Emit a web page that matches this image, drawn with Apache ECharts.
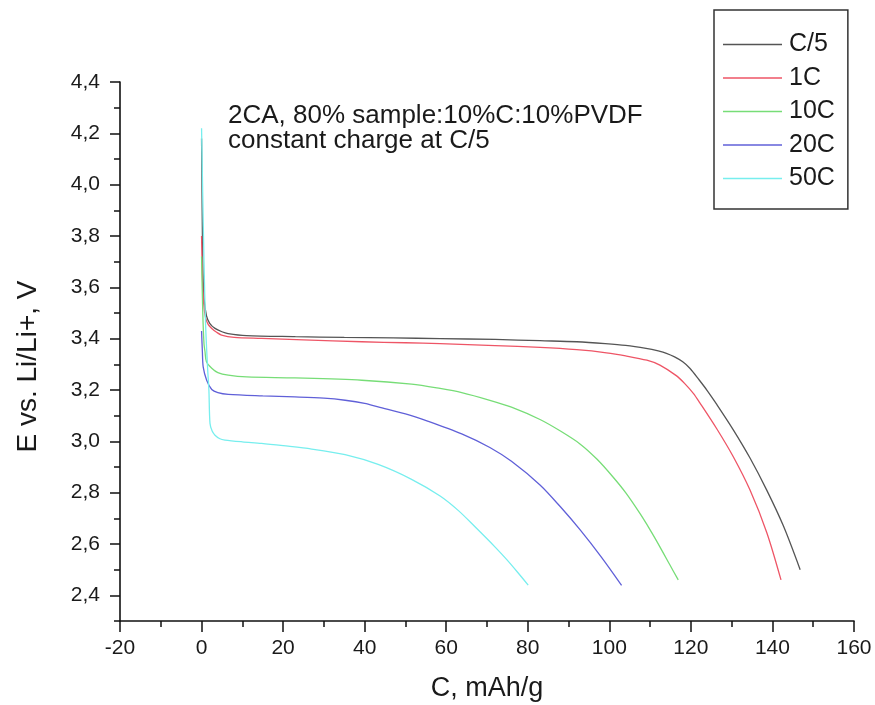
<!DOCTYPE html>
<html>
<head>
<meta charset="utf-8">
<script src="https://cdn.jsdelivr.net/npm/echarts@6/dist/echarts.min.js"></script>
<style>
html,body{margin:0;padding:0;background:#fff;}
#chart{width:875px;height:705px;}
</style>
</head>
<body>
<div id="chart"></div>
<script>
// ---- data (x: C, mAh/g ; y: E vs Li/Li+, V) ----
const seriesNames = ['C/5', '1C', '10C', '20C', '50C'];

const dataC5 = [[0,4.18],[0.15,3.9],[0.3,3.7],[0.6,3.56],[1.2,3.49],[2.0,3.46],[3.3,3.44],[5,3.427],[6.5,3.42],[11,3.412],[23,3.408],[35,3.405],[47,3.403],[58.5,3.4],[72,3.397],[83,3.392],[92,3.388],[99,3.381],[104,3.374],[109,3.362],[112,3.352],[114,3.343],[116,3.329],[118,3.31],[119.8,3.284],[122,3.24],[124,3.198],[126.3,3.145],[130.4,3.045],[134.5,2.935],[138.6,2.81],[142.7,2.67],[146.8,2.5]];

const data1C = [[0,3.8],[0.2,3.65],[0.5,3.54],[1,3.48],[1.65,3.455],[2.5,3.44],[3.7,3.425],[4.9,3.414],[8,3.405],[14.7,3.401],[25,3.395],[39.3,3.388],[50,3.384],[58.5,3.381],[72,3.373],[83,3.366],[92,3.357],[99.3,3.345],[104,3.333],[109.2,3.316],[112.4,3.297],[116.5,3.255],[118.5,3.225],[120.6,3.187],[122.2,3.15],[126.3,3.05],[130.4,2.94],[134.5,2.81],[138.6,2.645],[142.1,2.46]];

const data10C = [[0,3.72],[0.3,3.5],[0.6,3.38],[0.84,3.35],[1.2,3.31],[2.5,3.285],[4,3.268],[6.55,3.258],[11.1,3.251],[22.9,3.247],[39.3,3.238],[51.5,3.223],[58.5,3.206],[63.8,3.19],[70.7,3.16],[76,3.133],[83,3.085],[88,3.04],[92.8,2.99],[97,2.93],[100.9,2.861],[104,2.8],[107.5,2.719],[110,2.655],[112.4,2.589],[114.8,2.52],[116.9,2.46]];

const data20C = [[0,3.43],[0.2,3.35],[0.4,3.29],[1.25,3.238],[2.5,3.202],[4,3.19],[6.55,3.183],[15,3.177],[22.9,3.173],[30,3.168],[35.2,3.16],[40,3.148],[43.3,3.134],[50,3.107],[55.6,3.078],[63.8,3.029],[70.7,2.976],[76,2.922],[83,2.83],[88,2.745],[92.8,2.656],[98,2.55],[103,2.439]];

const data50C = [[0,4.22],[0.3,3.95],[0.6,3.7],[1.0,3.45],[1.5,3.28],[1.8,3.2],[2.07,3.07],[2.6,3.04],[3.3,3.024],[4.5,3.01],[5.75,3.005],[10,2.998],[14.7,2.992],[20,2.983],[27,2.97],[35.2,2.948],[43.3,2.91],[51.5,2.852],[58.5,2.787],[63,2.73],[67,2.668],[72,2.588],[74.8,2.54],[77.5,2.49],[80.1,2.44]];

const yTickValues = [2.4,2.6,2.8,3.0,3.2,3.4,3.6,3.8,4.0,4.2,4.4];
const xTickValues = [-20,0,20,40,60,80,100,120,140,160];
const annotationLines = ['2CA, 80% sample:10%C:10%PVDF', 'constant charge at C/5'];
const xTitle = 'C, mAh/g';
const yTitle = 'E vs. Li/Li+, V';

// ---- styling ----
const colors = ['#555555', '#ee5566', '#77dd77', '#6060d8', '#77eeee'];
const FONT = 'Arial, "Liberation Sans", sans-serif';
const TXT = '#1a1a1a';
const allData = [dataC5, data1C, data10C, data20C, data50C];

const chart = echarts.init(document.getElementById('chart'), null, {renderer: 'canvas'});

const option = {
  backgroundColor: '#ffffff',
  animation: false,
  textStyle: {fontFamily: FONT},
  grid: {left: 120, right: 21, top: 82, bottom: 84, containLabel: false, outerBoundsMode: 'none'},
  legend: {
    data: seriesNames,
    orient: 'vertical',
    left: 714, top: 10,
    padding: [22, 13, 18, 9],
    icon: 'rect',
    itemWidth: 59, itemHeight: 1.4, itemGap: 8.5,
    borderColor: '#333', borderWidth: 1.5,
    textStyle: {fontSize: 25, color: TXT, fontFamily: FONT, lineHeight: 24, padding: [0,0,0,2]}
  },
  xAxis: {
    type: 'value', min: -20, max: 160, interval: 20,
    name: xTitle, nameLocation: 'middle', nameGap: 54,
    nameTextStyle: {fontSize: 27, color: TXT, fontFamily: FONT},
    axisLine: {show: true, onZero: false, lineStyle: {color: '#111', width: 1.6}},
    axisTick: {show: true, length: 11, lineStyle: {color: '#111', width: 1.5}},
    minorTick: {show: true, splitNumber: 2, length: 6, lineStyle: {color: '#111', width: 1.5}},
    axisLabel: {fontSize: 21, color: TXT, margin: 17, fontFamily: FONT,
      customValues: xTickValues, formatter: v => String(v)},
    splitLine: {show: false}
  },
  yAxis: [{
    type: 'value', min: 2.3, max: 4.4,
    name: yTitle, nameLocation: 'middle', nameGap: 78, nameRotate: 90,
    nameTextStyle: {fontSize: 28, color: TXT, fontFamily: FONT, padding: [0, 30, 0, 0]},
    axisLine: {show: true, onZero: false, lineStyle: {color: '#111', width: 1.6}},
    axisTick: {show: true, length: 10, customValues: yTickValues, lineStyle: {color: '#111', width: 1.5}},
    axisLabel: {fontSize: 21, color: TXT, margin: 20, fontFamily: FONT,
      customValues: yTickValues, formatter: v => v.toFixed(1).replace('.', ',')},
    splitLine: {show: false}
  }, {
    type: 'value', min: 2.3, max: 4.4, interval: 0.1, position: 'left', offset: 0,
    axisLine: {show: false, onZero: false},
    axisTick: {show: true, length: 6, lineStyle: {color: '#111', width: 1.5}},
    axisLabel: {show: false},
    splitLine: {show: false}
  }],
  series: seriesNames.map((n, i) => ({
    name: n, type: 'line', data: allData[i], yAxisIndex: 0,
    symbol: 'none', showSymbol: false,
    smooth: 0.3,
    lineStyle: {color: colors[i], width: 1.3},
    itemStyle: {color: colors[i]},
    z: 2 + i
  })),
  graphic: [{
    type: 'text', left: 228, top: 103,
    style: {text: annotationLines.join('\n'), font: '26px ' + FONT, fill: TXT, lineHeight: 25}
  }]
};
chart.setOption(option);
</script>
</body>
</html>
